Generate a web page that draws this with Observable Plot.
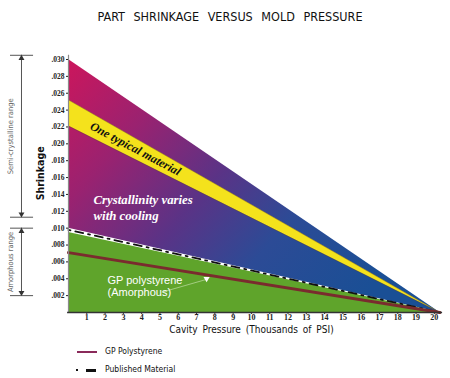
<!DOCTYPE html>
<html><head><meta charset="utf-8">
<script src="https://cdn.jsdelivr.net/npm/d3@7"></script>
<script src="https://cdn.jsdelivr.net/npm/@observablehq/plot@0.6"></script>
<style>
body{margin:0;background:#fff;width:450px;height:378px;overflow:hidden}
#title{height:30px;line-height:33px;text-align:center;padding-left:10px;font-family:"DejaVu Sans Condensed","DejaVu Sans",sans-serif;font-size:12.5px;word-spacing:5px;color:#111}
#chart{height:310px}
#legend{position:relative;height:38px;font-family:"DejaVu Sans Condensed","DejaVu Sans",sans-serif;font-size:8.5px;color:#111}
.li{position:absolute;left:105px}
.sw{position:absolute}
</style></head><body>
<div id="title">PART SHRINKAGE VERSUS MOLD PRESSURE</div>
<div id="chart"></div>
<div id="legend"></div>
<script>
// ---- data ----
const pressure = [0, 20.3];            // thousands of PSI
const crystTop = [0.030, 0];
const crystBottom = [0.0100, 0];
const typicalTop = [0.0252, 0];
const typicalBottom = [0.0221, 0];
const publishedMaterial = [0.0098, 0];
const amorphTop = [0.0095, 0];
const gpPolystyrene = [0.0071, 0];
const xTicks = [1,2,3,4,5,6,7,8,9,10,11,12,13,14,15,16,17,18,19,20];
const yTicks = [0.002,0.004,0.006,0.008,0.010,0.012,0.014,0.016,0.018,0.020,0.022,0.024,0.026,0.028,0.030];
const rangeNames = ["Semi-crystalline range", "Amorphous range"];
const rangeLow = [0.0113, 0.0020];
const rangeHigh = [0.0305, 0.0100];
const legendNames = ["GP Polystyrene", "Published Material"];

const pts = pressure.map((x, i) => ({
  x, ct: crystTop[i], cb: crystBottom[i], tt: typicalTop[i], tb: typicalBottom[i],
  pub: publishedMaterial[i], at: amorphTop[i], gp: gpPolystyrene[i]
}));
const ranges = rangeNames.map((name, i) => ({name, lo: rangeLow[i], hi: rangeHigh[i], mid: (rangeLow[i] + rangeHigh[i]) / 2}));

const serif = "Liberation Serif, serif";
const cond = "DejaVu Sans Condensed, DejaVu Sans, sans-serif";

const chart = Plot.plot({
  width: 450, height: 310,
  marginLeft: 68, marginRight: 7, marginTop: 29, marginBottom: 28,
  x: {domain: [0, 20.5]},
  y: {domain: [0, 0.030]},
  style: {fontFamily: cond, fontSize: "8px", background: "transparent", overflow: "visible"},
  marks: [
    Plot.areaY(pts, {x: "x", y1: "cb", y2: "ct", fill: "url(#crystGrad)"}),
    Plot.areaY(pts, {x: "x", y1: "tb", y2: "tt", fill: "#f4e21c"}),
    Plot.line(pts, {x: "x", y: "tt", stroke: "#5a3a30", strokeWidth: 0.6, strokeOpacity: 0.6}),
    Plot.line(pts, {x: "x", y: "tb", stroke: "#5a3a30", strokeWidth: 0.6, strokeOpacity: 0.6}),
    Plot.areaY(pts, {x: "x", y1: 0, y2: "at", fill: "#5fa42b"}),
    Plot.line(pts, {x: "x", y: "pub", stroke: "#111", strokeWidth: 1.8, strokeDasharray: "2,5,8,5"}),
    Plot.line(pts, {x: "x", y: "gp", stroke: "#7a2b2e", strokeWidth: 3}),
    Plot.ruleX([0], {y1: 0, y2: 0.0305, stroke: "#8a8a8a", strokeWidth: 1.2}),
    Plot.ruleY([0], {x1: -0.05, x2: 20.45, stroke: "#333", strokeWidth: 1.5}),
    Plot.axisX(xTicks, {tickSize: 2, tickPadding: 0, fontFamily: serif, fontWeight: "bold", fontSize: 8, stroke: "#333", color: "#222", label: null}),
    Plot.axisY(yTicks, {tickSize: 2, tickPadding: 2, tickFormat: d => d.toFixed(3).slice(1), fontFamily: serif, fontWeight: "bold", fontSize: 7.5, color: "#222", label: null}),
    Plot.text(["Cavity Pressure (Thousands of PSI)"], {frameAnchor: "bottom", x: 10, dy: 20, fontFamily: cond, fontSize: 10, fill: "#111"}),
    Plot.text(["Shrinkage"], {x: -1.53, y: 0.0165, rotate: -90, fontFamily: cond, fontWeight: "bold", fontSize: 10.5, fill: "#111"}),
    // range annotations
    Plot.ruleY(ranges, {y: "hi", x1: -3.17, x2: -1.91, stroke: "#555", strokeWidth: 1}),
    Plot.ruleY(ranges, {y: "lo", x1: -3.17, x2: -1.91, stroke: "#555", strokeWidth: 1}),
    Plot.ruleX(ranges, {x: -2.57, y1: "lo", y2: "hi", stroke: "#555", strokeWidth: 1}),
    Plot.dot(ranges, {x: -2.57, y: "hi", dy: 3, symbol: "triangle", r: 2.2, fill: "#333", stroke: null}),
    Plot.dot(ranges, {x: -2.57, y: "lo", dy: -3, symbol: "triangle", rotate: 180, r: 2.2, fill: "#333", stroke: null}),
    Plot.text(ranges, {x: -3.17, y: "mid", text: "name", rotate: -90, fontFamily: cond, fontSize: 7.5, fill: "#666"}),
    // in-chart labels
    Plot.text(["One typical material"], {x: 3.66, y: 0.0194, rotate: 28, fontFamily: serif, fontStyle: "italic", fontWeight: "bold", fontSize: 12, fill: "#111"}),
    Plot.text(["Crystallinity varies", "with cooling"], {x: 1.37, y: [0.0134, 0.0115], textAnchor: "start", fontFamily: serif, fontStyle: "italic", fontWeight: "bold", fontSize: 12.8, fill: "#fff"}),
    Plot.text(["GP polystyrene", "(Amorphous)"], {x: 2.13, y: [0.0038, 0.0024], textAnchor: "start", fontFamily: "Liberation Sans, sans-serif", fontSize: 11, fill: "#fff"}),
    Plot.link([0], {x1: 5.1, y1: 0.0024, x2: 7.5, y2: 0.0039, stroke: "#e8f5d8", strokeWidth: 0.7, strokeOpacity: 0.7}),
    Plot.dot([0], {x: 7.55, y: 0.0040, symbol: "triangle", rotate: 180, r: 2.3, fill: "#fff", stroke: null})
  ]
});

// gradient for the semi-crystalline region
const defs = d3.select(chart).insert("defs", ":first-child");
const g = defs.append("linearGradient").attr("id", "crystGrad")
  .attr("x1", 0).attr("y1", 0).attr("x2", 1).attr("y2", 0.6);
[[0, "#cc165c"], [0.25, "#9a2270"], [0.5, "#5a3386"], [0.72, "#2c4b96"], [1, "#1a4f95"]]
  .forEach(([o, c]) => g.append("stop").attr("offset", o).attr("stop-color", c));
d3.select(chart).selectAll("text").attr("word-spacing", function(){ return this.textContent.startsWith("Cavity") ? 2 : null; });
document.getElementById("chart").appendChild(chart);

// legend below the chart
const leg = d3.select("#legend");
const rows = [12, 30];
legendNames.forEach((name, i) => {
  leg.append("div").attr("class", "li").style("top", (rows[i] - 6) + "px").text(name);
});
leg.append("div").attr("class", "sw").style("left", "77px").style("top", (rows[0] - 1) + "px")
  .style("width", "20px").style("height", "2px").style("background", "#8a2a5a");
leg.append("div").attr("class", "sw").style("left", "76px").style("top", (rows[1] - 1) + "px")
  .style("width", "2px").style("height", "2px").style("background", "#111");
leg.append("div").attr("class", "sw").style("left", "86px").style("top", (rows[1] - 1) + "px")
  .style("width", "10px").style("height", "2.5px").style("background", "#111");
</script>
</body></html>
